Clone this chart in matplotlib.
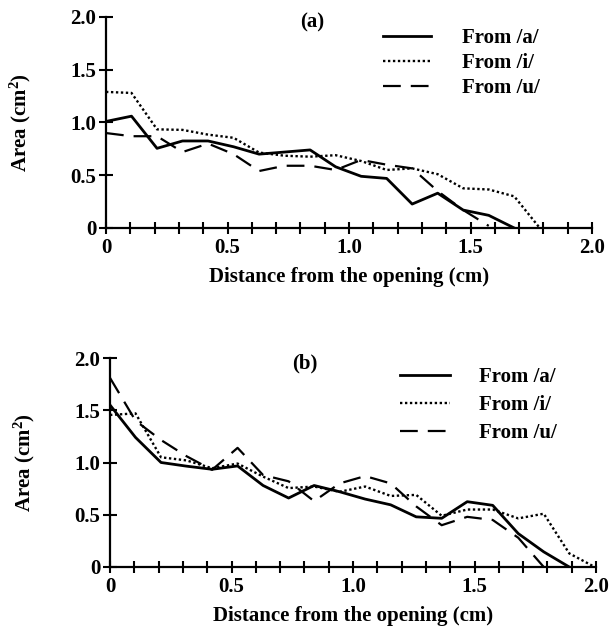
#!/usr/bin/python

import matplotlib
matplotlib.use("Agg")
import matplotlib.pyplot as plt
from matplotlib.ticker import MultipleLocator, FuncFormatter

# distance from the opening (cm), one sample every ~0.105 cm
dist = [0.0, 0.105, 0.21, 0.315, 0.42, 0.525, 0.63, 0.735, 0.84, 0.945,
        1.05, 1.155, 1.26, 1.365, 1.47, 1.575, 1.68, 1.785, 1.89, 1.995]

# panel (a)
a_from_a = [1.01, 1.06, 0.755, 0.825, 0.825, 0.77, 0.70, 0.72, 0.74, 0.58,
            0.49, 0.47, 0.227, 0.33, 0.17, 0.12, 0.0]
a_from_i = [1.29, 1.28, 0.935, 0.93, 0.885, 0.855, 0.715, 0.685, 0.676, 0.69,
            0.635, 0.55, 0.565, 0.51, 0.376, 0.365, 0.30, 0.0]
a_from_u = [0.90, 0.87, 0.87, 0.72, 0.80, 0.70, 0.54, 0.59, 0.59, 0.55,
            0.645, 0.60, 0.565, 0.35, 0.17, 0.02]

# panel (b)
b_from_a = [1.55, 1.24, 1.0, 0.965, 0.935, 0.967, 0.78, 0.66, 0.78, 0.72,
            0.65, 0.595, 0.48, 0.466, 0.625, 0.59, 0.32, 0.145, 0.0]
b_from_i = [1.455, 1.47, 1.05, 1.02, 0.945, 0.99, 0.865, 0.755, 0.77, 0.72,
            0.77, 0.68, 0.69, 0.49, 0.55, 0.55, 0.465, 0.51, 0.13, 0.0]
b_from_u = [1.81, 1.40, 1.215, 1.06, 0.93, 1.14, 0.88, 0.82, 0.63, 0.80,
            0.87, 0.80, 0.58, 0.40, 0.48, 0.45, 0.28, 0.0]

labels = ["From /a/", "From /i/", "From /u/"]

W, H = 611, 635


def fmt(v, pos):
    if abs(v) < 1e-9:
        return "0"
    return "%.1f" % v


def style_axes(ax):
    ax.spines["top"].set_visible(False)
    ax.spines["right"].set_visible(False)
    for s in ("left", "bottom"):
        ax.spines[s].set_linewidth(1.6)
    ax.set_xlim(0, 2.0)
    ax.set_ylim(0, 2.0)
    ax.xaxis.set_major_locator(MultipleLocator(0.5))
    ax.xaxis.set_minor_locator(MultipleLocator(0.1))
    ax.yaxis.set_major_locator(MultipleLocator(0.5))
    ax.xaxis.set_major_formatter(FuncFormatter(fmt))
    ax.yaxis.set_major_formatter(FuncFormatter(fmt))
    ax.tick_params(axis="both", which="both", direction="inout",
                   length=9, width=1.5, labelsize=15, pad=3)
    ax.tick_params(axis="y", length=10, pad=2)
    ax.set_xlabel("Distance from the opening (cm)", fontsize=15,
                  fontweight="bold", labelpad=6)
    ax.set_ylabel("Area (cm$^2$)", fontsize=15, fontweight="bold")
    ax.yaxis.set_label_coords(-0.15, 0.5)
    for t in ax.get_xticklabels() + ax.get_yticklabels():
        t.set_fontweight("bold")


def draw(ax, ya, yi, yu):
    ax.plot(dist[:len(ya)], ya, color="black", lw=2.0, ls="-",
            label=labels[0])
    ax.plot(dist[:len(yi)], yi, color="black", lw=1.7, ls=(0, (1, 1.1)),
            label=labels[1])
    ax.plot(dist[:len(yu)], yu, color="black", lw=1.6, ls=(0, (8, 4.5)),
            label=labels[2])


def main():
    plt.rcParams["font.family"] = ["Liberation Serif", "DejaVu Serif"]
    plt.rcParams["font.weight"] = "bold"
    plt.rcParams["mathtext.fontset"] = "custom"
    plt.rcParams["mathtext.rm"] = "Liberation Serif:bold"
    plt.rcParams["mathtext.it"] = "Liberation Serif:bold"
    plt.rcParams["mathtext.bf"] = "Liberation Serif:bold"

    fig = plt.figure(figsize=(W / 100, H / 100), dpi=100)

    ax1 = fig.add_axes([106 / W, 1 - 228 / H, 486 / W, 211 / H])
    draw(ax1, a_from_a, a_from_i, a_from_u)
    style_axes(ax1)
    fig.text(312 / W, 1 - 22 / H, "(a)", ha="center", va="center",
             fontsize=15, fontweight="bold")
    fig.legend(*ax1.get_legend_handles_labels(), loc="upper left",
               bbox_to_anchor=(383 / W, 1 - 28 / H), frameon=False,
               borderpad=0, borderaxespad=0, handlelength=2.3,
               handletextpad=1.5, labelspacing=0.25, fontsize=15)

    ax2 = fig.add_axes([110 / W, 1 - 567 / H, 486 / W, 209 / H])
    draw(ax2, b_from_a, b_from_i, b_from_u)
    style_axes(ax2)
    fig.text(305 / W, 1 - 363 / H, "(b)", ha="center", va="center",
             fontsize=15, fontweight="bold")
    fig.legend(*ax2.get_legend_handles_labels(), loc="upper left",
               bbox_to_anchor=(400 / W, 1 - 367 / H), frameon=False,
               borderpad=0, borderaxespad=0, handlelength=2.4,
               handletextpad=1.4, labelspacing=0.38, fontsize=15)

    fig.savefig("out.png", dpi=100)


if __name__ == "__main__":
    main()
